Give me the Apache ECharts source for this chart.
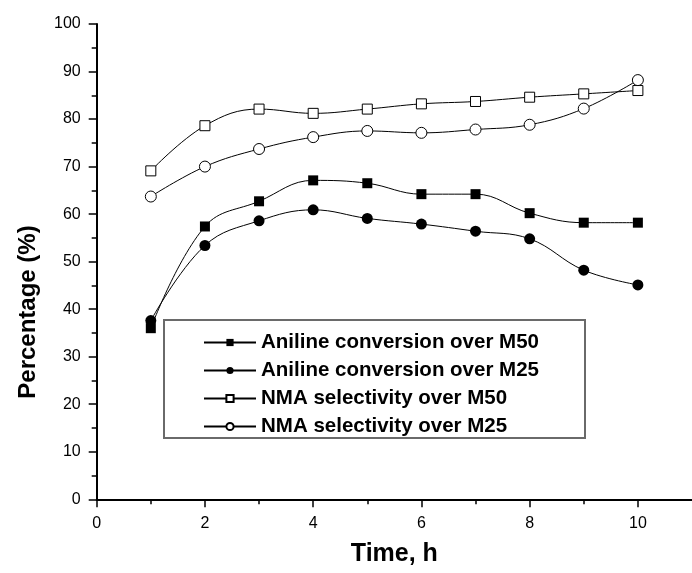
<!DOCTYPE html>
<html>
<head>
<meta charset="utf-8">
<script src="https://cdn.jsdelivr.net/npm/echarts@6/dist/echarts.min.js"></script>
<style>
  html, body { margin: 0; padding: 0; background: #fff; }
  #chart { width: 692px; height: 573px; }
</style>
</head>
<body>
<div id="chart"></div>
<script>
// Reaction time (h)
const timeH = [1, 2, 3, 4, 5, 6, 7, 8, 9, 10];

// Percentages for each catalyst / quantity
const anilineConvM50 = [36.0, 57.4, 62.7, 67.1, 66.5, 64.2, 64.2, 60.2, 58.2, 58.2];
const anilineConvM25 = [37.6, 53.4, 58.6, 60.9, 59.1, 57.9, 56.4, 54.8, 48.2, 45.1];
const nmaSelM50 = [69.1, 78.6, 82.1, 81.2, 82.1, 83.2, 83.7, 84.6, 85.3, 86.0];
const nmaSelM25 = [63.7, 70.0, 73.7, 76.2, 77.5, 77.1, 77.8, 78.8, 82.2, 88.2];

const seriesNames = [
  'Aniline conversion over M50',
  'Aniline conversion over M25',
  'NMA selectivity over M50',
  'NMA selectivity over M25'
];

// Axis tick values
const xMajorTicks = [0, 2, 4, 6, 8, 10];
const xMinorTicks = [1, 3, 5, 7, 9];

const FONT = '"Liberation Sans", Arial, Helvetica, sans-serif';

const pairs = ys => timeH.map((t, i) => [t, ys[i]]);

function lineSeries(name, ys, symbol, filled) {
  return {
    name: name,
    type: 'line',
    xAxisIndex: 0,
    yAxisIndex: 0,
    data: pairs(ys),
    smooth: 0.4,
    symbol: symbol,
    symbolSize: symbol === 'rect' ? 10 : 11,
    lineStyle: { color: '#000', width: 1 },
    itemStyle: filled
      ? { color: '#000', borderColor: '#000', borderWidth: 0 }
      : { color: '#fff', borderColor: '#000', borderWidth: 1 },
    z: 3
  };
}

const chart = echarts.init(document.getElementById('chart'), null, { renderer: 'canvas' });

chart.setOption({
  animation: false,
  backgroundColor: '#fff',
  grid: { left: 96.7, top: 24, width: 601.3, height: 475.3, containLabel: false },
  xAxis: [
    {
      type: 'value',
      position: 'bottom',
      min: 0,
      max: 11,
      name: 'Time, h',
      nameLocation: 'middle',
      nameGap: 42,
      nameTextStyle: { fontFamily: FONT, fontSize: 25, fontWeight: 'bold', color: '#000' },
      axisLine: { show: true, onZero: false, lineStyle: { color: '#000', width: 2 } },
      axisTick: { show: true, customValues: xMajorTicks, length: 8, lineStyle: { color: '#000', width: 1.5 } },
      axisLabel: { show: true, customValues: xMajorTicks, margin: 16, fontFamily: FONT, fontSize: 16, color: '#000' },
      splitLine: { show: false }
    },
    {
      type: 'value',
      position: 'bottom',
      min: 0,
      max: 11,
      axisLine: { show: false },
      axisTick: { show: true, customValues: xMinorTicks, length: 5, lineStyle: { color: '#000', width: 1.5 } },
      axisLabel: { show: false },
      splitLine: { show: false }
    }
  ],
  yAxis: {
    type: 'value',
    min: 0,
    max: 100,
    interval: 10,
    axisLine: { show: true, onZero: false, lineStyle: { color: '#000', width: 2 } },
    axisTick: { show: true, length: 8, lineStyle: { color: '#000', width: 1.5 } },
    minorTick: { show: true, splitNumber: 2, length: 5, lineStyle: { color: '#000', width: 1.5 } },
    axisLabel: { margin: 16, fontFamily: FONT, fontSize: 16, color: '#000' },
    splitLine: { show: false },
    minorSplitLine: { show: false }
  },
  legend: {
    orient: 'vertical',
    left: 203,
    top: 332,
    padding: 0,
    itemWidth: 52,
    itemHeight: 9,
    itemGap: 7,
    selectedMode: false,
    data: seriesNames,
    textStyle: { fontFamily: FONT, fontSize: 20.5, fontWeight: 'bold', color: '#000' },
    z: 10
  },
  graphic: [
    {
      type: 'rect',
      z: 5,
      shape: { x: 164, y: 320, width: 421, height: 118 },
      style: { fill: '#fff', stroke: '#6a6a6a', lineWidth: 2 }
    },
    {
      type: 'text',
      z: 5,
      x: 28.5,
      y: 312,
      rotation: Math.PI / 2,
      style: {
        text: 'Percentage (%)',
        font: 'bold 24px ' + FONT,
        fill: '#000',
        align: 'center',
        verticalAlign: 'middle'
      }
    }
  ],
  series: [
    lineSeries(seriesNames[0], anilineConvM50, 'rect', true),
    lineSeries(seriesNames[1], anilineConvM25, 'circle', true),
    lineSeries(seriesNames[2], nmaSelM50, 'rect', false),
    lineSeries(seriesNames[3], nmaSelM25, 'circle', false)
  ]
});
</script>
</body>
</html>
